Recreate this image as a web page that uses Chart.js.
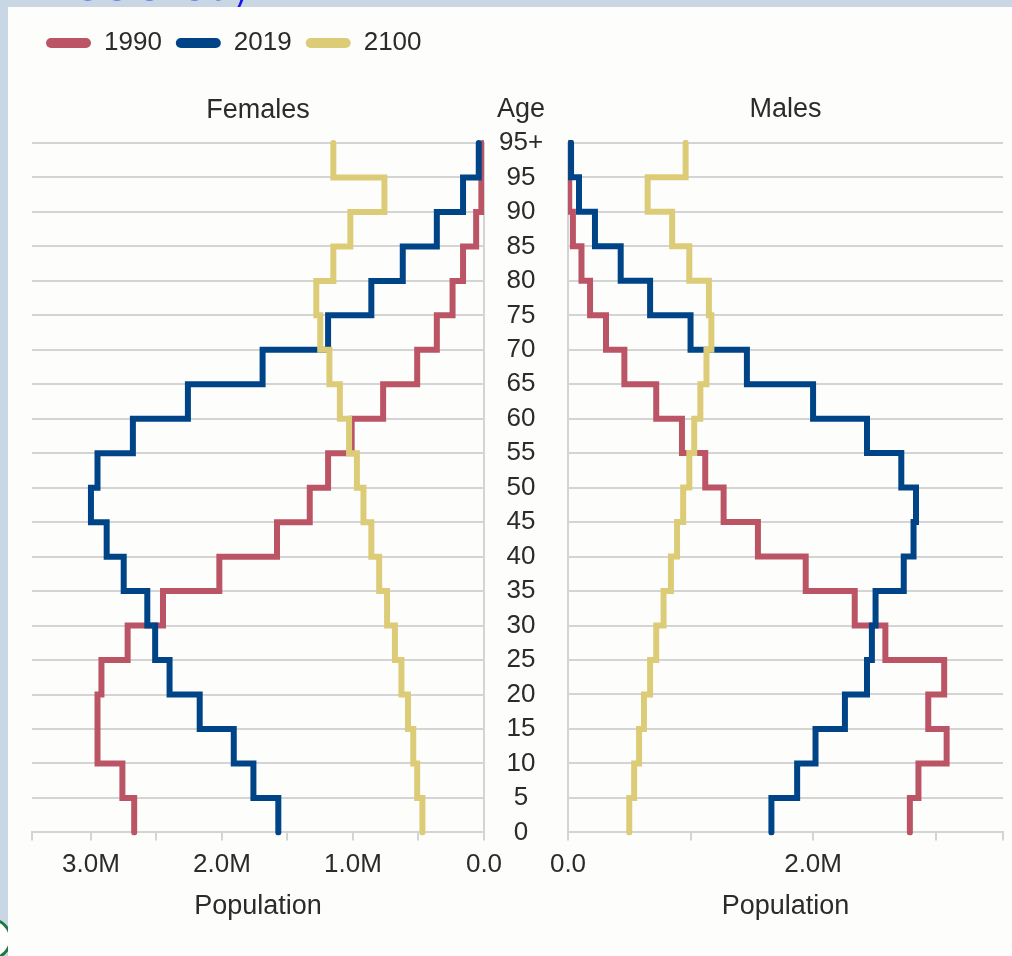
<!DOCTYPE html>
<html>
<head>
<meta charset="utf-8">
<title>Population pyramid</title>
<script src="https://cdn.jsdelivr.net/npm/chart.js@4.4.1/dist/chart.umd.min.js"></script>
<style>
  html, body { margin: 0; padding: 0; }
  body { width: 1012px; height: 956px; position: relative; overflow: hidden; background: #c9d6e3; }
  .brand { position: absolute; left: 76px; top: -53px; font: 64px "Liberation Serif", serif; line-height: 1; color: #1616ee; z-index: 0; }
  .logo { position: absolute; left: -30px; top: 918px; width: 36px; height: 36px; border-radius: 50%; background: #fff; border: 3px solid #1d7a3e; z-index: 0; }
  .panel { position: absolute; left: 8px; top: 7px; right: 0; bottom: 0; background: #fdfdfc; z-index: 1; }
  .box { position: absolute; top: 7px; height: 949px; z-index: 2; }
  #femalesBox { left: 8px; width: 552px; }
  #malesBox { left: 530px; width: 482px; }
</style>
</head>
<body>
<div class="brand">society</div>
<div class="logo"></div>
<div class="panel"></div>
<div class="box" id="femalesBox"><canvas id="females"></canvas></div>
<div class="box" id="malesBox"><canvas id="males"></canvas></div>
<script>
const ageLabels = ['0', '5', '10', '15', '20', '25', '30', '35', '40', '45',
  '50', '55', '60', '65', '70', '75', '80', '85', '90', '95', '95+'];
const years = ['1990', '2019', '2100'];
const seriesColors = ['#bb5566', '#004488', '#ddcc77'];

// population per 5-year age group (0-4 ... 95+), in millions
const females1990 = [2.67, 2.76, 2.95, 2.95, 2.92, 2.72, 2.45, 2.02, 1.58, 1.33,
  1.19, 1.01, 0.77, 0.51, 0.36, 0.24, 0.16, 0.06, 0.02, 0.01];
const females2019 = [1.57, 1.76, 1.91, 2.17, 2.40, 2.51, 2.57, 2.75, 2.88, 3.00,
  2.95, 2.68, 2.26, 1.69, 1.19, 0.86, 0.62, 0.36, 0.16, 0.04];
const females2100 = [0.47, 0.51, 0.54, 0.58, 0.63, 0.68, 0.74, 0.80, 0.86, 0.92,
  0.97, 1.03, 1.10, 1.18, 1.25, 1.28, 1.15, 1.02, 0.76, 1.15];

const males1990 = [2.79, 2.86, 3.09, 2.94, 3.07, 2.59, 2.34, 1.94, 1.55, 1.27,
  1.12, 0.93, 0.72, 0.46, 0.31, 0.18, 0.11, 0.04, 0.01, 0.005];
const males2019 = [1.66, 1.87, 2.02, 2.26, 2.44, 2.48, 2.51, 2.74, 2.82, 2.84,
  2.72, 2.44, 2.00, 1.46, 1.00, 0.67, 0.43, 0.22, 0.09, 0.025];
const males2100 = [0.50, 0.54, 0.58, 0.62, 0.67, 0.72, 0.78, 0.84, 0.89, 0.94,
  0.99, 1.03, 1.08, 1.13, 1.17, 1.15, 0.99, 0.85, 0.65, 0.96];

// axis ticks (millions); the last one is the axis end
const femaleTicks = [0, 0.5, 1, 1.5, 2, 2.5, 3, 3.45];
const maleTicks = [0, 1, 2, 3, 3.55];

const textColor = '#2b2b2b';
const gridColor = '#d4d4d4';

Chart.defaults.font.family = '"Liberation Sans", Arial, sans-serif';
Chart.defaults.color = textColor;

function fmt(v) {
  return v === 0 ? '0.0' : v.toFixed(1) + 'M';
}

// repeat the top group so the last step closes at the "95+" line
function stepData(values) {
  return values.concat(values[values.length - 1]);
}

function makeDatasets(seriesList) {
  return seriesList.map((values, i) => ({
    label: years[i],
    data: stepData(values),
    borderColor: seriesColors[i],
    backgroundColor: seriesColors[i],
    borderWidth: 6,
    stepped: 'after',
    pointRadius: 0,
    borderCapStyle: 'round',
    borderJoinStyle: 'miter',
    order: seriesList.length - i
  }));
}

function xScale(ticks, reverse, labelTest) {
  return {
    type: 'linear',
    reverse: reverse,
    min: 0,
    max: ticks[ticks.length - 1],
    afterBuildTicks: s => { s.ticks = ticks.map(v => ({ value: v })); },
    ticks: {
      autoSkip: false,
      maxRotation: 0,
      padding: 9,
      font: { size: 26 },
      callback: v => labelTest(v) ? fmt(v) : ''
    },
    grid: { drawOnChartArea: false, drawTicks: true, tickLength: 8, color: gridColor, lineWidth: 2 },
    border: { display: true, color: gridColor, width: 2 },
    title: { display: true, text: 'Population', font: { size: 27 }, padding: { top: 1, bottom: 7 } }
  };
}

const sideTitle = { display: true, fullSize: false, font: { size: 27, weight: 'normal' }, padding: { top: 28, bottom: 16.6 } };

const ageTitle = {
  id: 'ageTitle',
  afterDraw(chart) {
    const ctx = chart.ctx;
    ctx.save();
    ctx.font = '27px "Liberation Sans", Arial, sans-serif';
    ctx.fillStyle = textColor;
    ctx.textAlign = 'center';
    ctx.textBaseline = 'middle';
    ctx.fillText('Age', chart.scales.y.left + 37, chart.chartArea.top - 33);
    ctx.restore();
  }
};

new Chart(document.getElementById('females'), {
  type: 'line',
  data: { labels: ageLabels, datasets: makeDatasets([females1990, females2019, females2100]) },
  options: {
    indexAxis: 'y',
    responsive: true,
    maintainAspectRatio: false,
    animation: false,
    layout: { padding: { left: 24, right: 0, top: 9, bottom: 26 } },
    scales: {
      x: xScale(femaleTicks, true, v => Number.isInteger(v)),
      y: {
        type: 'category',
        position: 'right',
        reverse: true,
        afterFit: s => { s.width = 76; },
        ticks: { autoSkip: false, crossAlign: 'center', padding: 15, font: { size: 26 } },
        grid: { drawTicks: false, color: gridColor, lineWidth: 2 },
        border: { display: true, color: gridColor, width: 2 }
      }
    },
    plugins: {
      legend: {
        align: 'start',
        weight: 3000,
        labels: {
          boxWidth: 45,
          boxHeight: 10,
          useBorderRadius: true,
          borderRadius: 5,
          padding: 14,
          font: { size: 26 },
          sort: (a, b) => a.datasetIndex - b.datasetIndex,
          generateLabels: chart => Chart.defaults.plugins.legend.labels.generateLabels(chart)
            .map(item => Object.assign(item, { lineWidth: 0 }))
        }
      },
      title: Object.assign({ text: 'Females' }, sideTitle),
      tooltip: { enabled: false }
    }
  },
  plugins: [ageTitle]
});

new Chart(document.getElementById('males'), {
  type: 'line',
  data: { labels: ageLabels, datasets: makeDatasets([males1990, males2019, males2100]) },
  options: {
    indexAxis: 'y',
    responsive: true,
    maintainAspectRatio: false,
    animation: false,
    layout: { padding: { left: 38, right: 9, top: 58.8, bottom: 26 } },
    scales: {
      x: xScale(maleTicks, false, v => v % 2 === 0),
      y: {
        type: 'category',
        position: 'left',
        reverse: true,
        ticks: { display: false },
        grid: { drawTicks: false, color: gridColor, lineWidth: 2 },
        border: { display: true, color: gridColor, width: 2 }
      }
    },
    plugins: {
      legend: { display: false },
      title: Object.assign({ text: 'Males' }, sideTitle),
      tooltip: { enabled: false }
    }
  }
});
</script>
</body>
</html>
